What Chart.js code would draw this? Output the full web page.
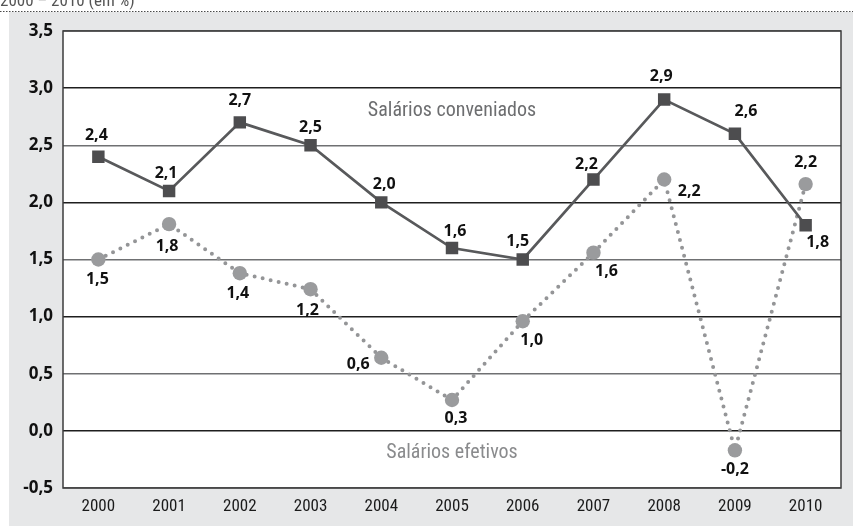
<!DOCTYPE html>
<html>
<head>
<meta charset="utf-8">
<script src="https://cdn.jsdelivr.net/npm/chart.js@4.4.1/dist/chart.umd.min.js"></script>
<style>
  html, body { margin: 0; padding: 0; background: #ffffff; }
  canvas { display: block; }
</style>
</head>
<body>
<canvas id="c" width="853" height="526"></canvas>
<script>
// Years on the horizontal axis
const years = ['2000', '2001', '2002', '2003', '2004', '2005', '2006', '2007', '2008', '2009', '2010'];

// Negotiated wage increases (% real)
const salariosConveniados = [2.4, 2.1, 2.7, 2.5, 2.0, 1.6, 1.5, 2.2, 2.9, 2.6, 1.8];

// Effective wage increases (% real)
const salariosEfetivos = [1.5, 1.81, 1.38, 1.24, 0.64, 0.27, 0.96, 1.56, 2.2, -0.17, 2.16];

// Vertical axis range and step
const yMin = -0.5;
const yMax = 3.5;
const yStep = 0.5;

// Value-label offsets (px) relative to each point
const conveniadosLabelOffsets = [[-2, -21], [-3, -18], [0, -22], [0, -18], [3, -18], [3, -17], [-5, -18], [-7, -15], [-3, -23], [11, -22], [12, 17]];
const efetivosLabelOffsets = [[-1, 20], [-2, 22], [-2, 20], [-3, 21], [-23, 7], [4, 18], [9, 19], [13, 19], [25, 12], [0, 19], [0, -22]];

const fmt = v => v.toFixed(1).replace('.', ',').replace('-0,0', '0,0');

const NARROW = "'Liberation Sans Narrow', 'Arial Narrow', 'Roboto Condensed', sans-serif";
const BOLD = "'Open Sans', 'Noto Sans', sans-serif";

// Page backgrounds, heading strip and plot frame
const framePlugin = {
  id: 'frame',
  beforeDraw(chart) {
    const ctx = chart.ctx;
    const a = chart.chartArea;
    ctx.save();
    ctx.fillStyle = '#ffffff';
    ctx.fillRect(0, 0, chart.width, chart.height);
    ctx.fillStyle = '#e6e7e8';
    ctx.fillRect(9, 12, chart.width - 9, chart.height - 12);
    ctx.fillStyle = '#ffffff';
    ctx.fillRect(a.left, a.top, a.right - a.left, a.bottom - a.top);

    // heading line (only its lower part fits on the page)
    ctx.fillStyle = '#555555';
    ctx.font = "17px " + NARROW;
    ctx.textBaseline = 'alphabetic';
    ctx.textAlign = 'left';
    ctx.fillText('2000 – 2010 (em %)', 0, 6);

    // dotted rule under the heading
    ctx.strokeStyle = '#4a4a4a';
    ctx.lineWidth = 1;
    ctx.setLineDash([1.5, 1.5]);
    ctx.beginPath();
    ctx.moveTo(0, 11.5);
    ctx.lineTo(chart.width, 11.5);
    ctx.stroke();
    ctx.restore();
  },
  beforeDatasetsDraw(chart) {
    const ctx = chart.ctx;
    const a = chart.chartArea;
    ctx.save();
    ctx.strokeStyle = '#3c3c3c';
    ctx.lineWidth = 1.5;
    ctx.strokeRect(a.left, a.top, a.right - a.left, a.bottom - a.top);

    // series captions
    const xs = chart.scales.x, ys = chart.scales.y;
    ctx.textAlign = 'center';
    ctx.textBaseline = 'middle';
    ctx.font = "20px " + NARROW;
    ctx.fillStyle = '#6d6e70';
    ctx.fillText('Salários conveniados', xs.getPixelForValue(5), ys.getPixelForValue(2.8));
    ctx.fillStyle = '#8a8b8d';
    ctx.fillText('Salários efetivos', xs.getPixelForValue(5), ys.getPixelForValue(-0.19));
    ctx.restore();
  }
};

// Value labels next to each point
const valueLabels = {
  id: 'valueLabels',
  afterDatasetsDraw(chart) {
    const ctx = chart.ctx;
    const offsets = [conveniadosLabelOffsets, efetivosLabelOffsets];
    ctx.save();
    ctx.font = "bold 16px " + BOLD;
    ctx.fillStyle = '#111111';
    ctx.textAlign = 'center';
    ctx.textBaseline = 'middle';
    chart.data.datasets.forEach((ds, di) => {
      const meta = chart.getDatasetMeta(di);
      meta.data.forEach((pt, i) => {
        const [dx, dy] = offsets[di][i];
        ctx.fillText(fmt(ds.data[i]), pt.x + dx, pt.y + dy);
      });
    });
    ctx.restore();
  }
};

new Chart(document.getElementById('c'), {
  type: 'line',
  data: {
    labels: years,
    datasets: [
      {
        label: 'Salários conveniados',
        data: salariosConveniados,
        borderColor: '#58595b',
        borderWidth: 2.7,
        pointStyle: 'rect',
        pointRadius: 8.8,
        pointBackgroundColor: '#4d4d4f',
        pointBorderWidth: 0,
        tension: 0
      },
      {
        label: 'Salários efetivos',
        data: salariosEfetivos,
        borderColor: '#949597',
        borderWidth: 4,
        borderDash: [0, 8.2],
        borderCapStyle: 'round',
        pointStyle: 'circle',
        pointRadius: 7.2,
        pointBackgroundColor: '#9a9b9d',
        pointBorderWidth: 0,
        tension: 0
      }
    ]
  },
  options: {
    responsive: false,
    devicePixelRatio: 1,
    animation: false,
    events: [],
    layout: { padding: { left: 0, top: 31, right: 12, bottom: 0 } },
    plugins: {
      legend: { display: false },
      tooltip: { enabled: false },
      title: { display: false }
    },
    scales: {
      x: {
        offset: true,
        grid: { display: false, drawTicks: false },
        border: { display: false },
        ticks: {
          padding: 9,
          color: '#1a1a1a',
          font: { family: NARROW, size: 17 }
        },
        afterFit(scale) { scale.height = 38; }
      },
      y: {
        min: yMin,
        max: yMax,
        grid: {
          drawTicks: false,
          lineWidth: 1.5,
          color: ctx => (Math.abs(ctx.tick.value % 1) < 1e-9 ? '#1e1e1e' : '#6f7072')
        },
        border: { display: false },
        ticks: {
          stepSize: yStep,
          padding: 10,
          color: '#111111',
          font: { family: BOLD, size: 17, weight: 'bold' },
          callback: v => fmt(v)
        },
        afterFit(scale) { scale.width = 63; }
      }
    }
  },
  plugins: [framePlugin, valueLabels]
});
</script>
</body>
</html>
